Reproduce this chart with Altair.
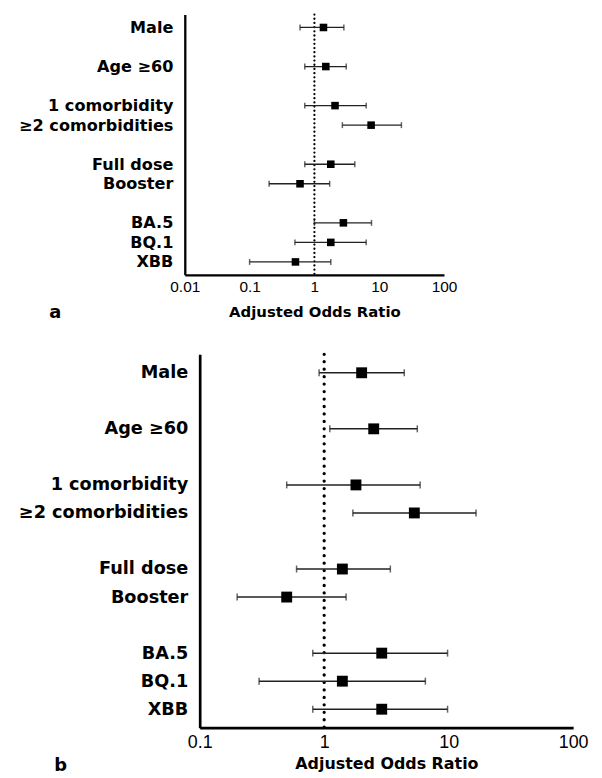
import altair as alt
import pandas as pd

# Row order on the y axis (gap entries are blank spacer rows)
order = ["Male", "_g1", "Age ≥60", "_g2", "1 comorbidity", "≥2 comorbidities",
         "_g3", "Full dose", "Booster", "_g4", "BA.5", "BQ.1", "XBB"]
factors = ["Male", "Age ≥60", "1 comorbidity", "≥2 comorbidities",
           "Full dose", "Booster", "BA.5", "BQ.1", "XBB"]

# Panel a: adjusted odds ratio with 95% CI
a_or = [1.38, 1.50, 2.08, 7.5, 1.79, 0.60, 2.8, 1.79, 0.51]
a_lo = [0.60, 0.71, 0.71, 2.7, 0.71, 0.20, 1.0, 0.50, 0.10]
a_hi = [2.85, 3.1, 6.3, 22.0, 4.2, 1.72, 7.6, 6.3, 1.79]
a_ticks = [0.01, 0.1, 1, 10, 100]

# Panel b
b_or = [2.0, 2.5, 1.8, 5.3, 1.4, 0.50, 2.9, 1.4, 2.9]
b_lo = [0.91, 1.11, 0.50, 1.70, 0.60, 0.20, 0.81, 0.30, 0.81]
b_hi = [4.4, 5.6, 5.9, 16.6, 3.4, 1.5, 9.8, 6.5, 9.8]
b_ticks = [0.1, 1, 10, 100]

BOLD = "DejaVu Sans, sans-serif"
REG = "Liberation Sans, Arial, sans-serif"


def panel(or_, lo, hi, ticks, w, h, shift, lab_size, tick_font, title_size,
          lab_pad, tick_pad, title_pad, domain_w, sq, cap, rule_w,
          dot_gap, dot_w, letter, lx, ly, letter_size):
    df = pd.DataFrame({"factor": factors, "or": or_, "lo": lo, "hi": hi})
    xs = alt.Scale(type="log", domain=[ticks[0], ticks[-1]], nice=False,
                   range=[-shift, w])
    xa = alt.Axis(values=ticks, format="~g", title="Adjusted Odds Ratio",
                  grid=False, ticks=False, labelFlush=False, labelOverlap=False,
                  labelFont=REG, labelFontSize=tick_font, labelColor="black",
                  labelPadding=tick_pad, titleFont=BOLD, titleFontSize=title_size,
                  titleFontWeight="bold", titleColor="black", titlePadding=title_pad,
                  domainColor="black", domainWidth=domain_w)
    ys = alt.Scale(domain=order, type="point", padding=0.66)
    ya = alt.Axis(title=None, grid=False, ticks=False, offset=shift,
                  labelExpr="indexof(datum.label, '_g') == 0 ? '' : datum.label",
                  labelFont=BOLD, labelFontSize=lab_size, labelFontWeight="bold",
                  labelColor="black", labelPadding=lab_pad,
                  domainColor="black", domainWidth=domain_w)
    y = alt.Y("factor:N", scale=ys, axis=ya)
    base = alt.Chart(df)
    ref = alt.Chart(pd.DataFrame({"r": [1]})).mark_rule(
        color="black", strokeWidth=dot_w, strokeCap="round",
        strokeDash=[0.01, dot_gap]).encode(x=alt.X("r:Q", scale=xs, axis=xa))
    bars = base.mark_rule(color="#222", strokeWidth=rule_w).encode(
        x=alt.X("lo:Q", scale=xs, axis=xa), x2="hi:Q", y=y)
    cap_lo = base.mark_tick(color="#222", size=cap, thickness=1.5).encode(
        x=alt.X("lo:Q", scale=xs, axis=xa), y=y)
    cap_hi = base.mark_tick(color="#222", size=cap, thickness=1.5).encode(
        x=alt.X("hi:Q", scale=xs, axis=xa), y=y)
    pts = base.mark_square(color="black", size=sq, opacity=1).encode(
        x=alt.X("or:Q", scale=xs, axis=xa), y=y)
    lab = alt.Chart(pd.DataFrame({"t": [letter]})).mark_text(
        font=BOLD, fontSize=letter_size, fontWeight="bold", color="black",
        align="center", baseline="middle").encode(
        text="t:N", x=alt.value(lx), y=alt.value(ly))
    return alt.layer(ref, bars, cap_lo, cap_hi, pts, lab).properties(width=w, height=h)


pa = panel(a_or, a_lo, a_hi, a_ticks, 246, 262, 15, 16.2, 15.5, 15, 12, 5, 9.5, 2.3,
           58, 6, 1.3, 4.2, 2.3, "a", -145.5, 300.7, 18)
pb = panel(b_or, b_lo, b_hi, b_ticks, 376, 376, 0, 17.8, 18, 16, 12, 6, 4, 2.7,
           120, 7, 1.5, 7.5, 3.3, "b", -140, 414.7, 18)

chart = alt.vconcat(pa, pb, spacing=30).properties(
    padding={"left": 10, "top": 2, "right": 5, "bottom": 0}
).configure_view(stroke=None)

chart.save("out.html", embed_options={"renderer": "svg", "actions": False})
